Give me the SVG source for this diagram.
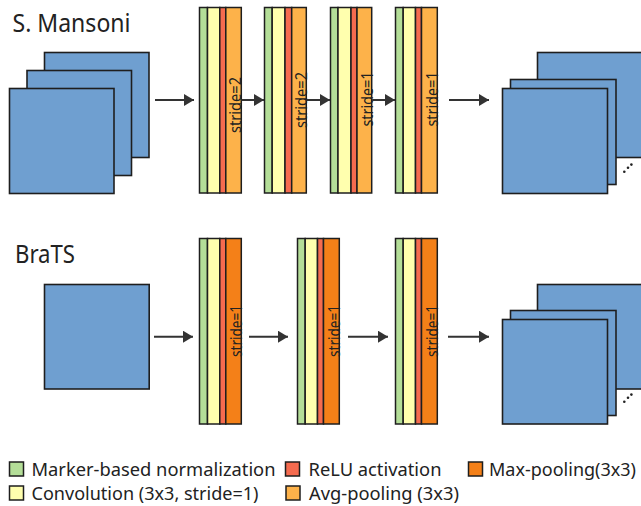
<svg xmlns="http://www.w3.org/2000/svg" width="641" height="506" viewBox="0 0 641 506">
  <defs>
    <marker id="arrowhead" viewBox="0 0 10 12" refX="10" refY="6" markerWidth="10" markerHeight="12" markerUnits="userSpaceOnUse" orient="auto">
      <path d="M0,0 L10,6 L0,12 Z" fill="#333"/>
    </marker>
    <style>
      .map { fill: #6f9fd0; stroke: #1e1e1e; stroke-width: 1.6; }
      .norm { fill: #b4de98; stroke: #1e1e1e; stroke-width: 1.5; }
      .conv { fill: #ffffae; stroke: #1e1e1e; stroke-width: 1.5; }
      .relu { fill: #f56b4f; stroke: #1e1e1e; stroke-width: 1.5; }
      .avg { fill: #fdb24a; stroke: #1e1e1e; stroke-width: 1.5; }
      .max { fill: #f48018; stroke: #1e1e1e; stroke-width: 1.5; }
      .edge { fill: none; stroke: #333; stroke-width: 2; marker-end: url(#arrowhead); }
      .title { font-family: "Noto Sans", "DejaVu Sans", sans-serif; font-size: 25px; fill: #222; }
      .stride { font-family: "Noto Sans", "DejaVu Sans", sans-serif; font-size: 15.5px; fill: #222; text-anchor: middle; }
      .legend { font-family: "Noto Sans", "DejaVu Sans", sans-serif; font-size: 18.5px; fill: #222; }
      .dot { fill: #222; }
    </style>
  </defs>

  <!-- Section titles -->
  <text class="title" x="12.5" y="32" textLength="118" lengthAdjust="spacingAndGlyphs">S. Mansoni</text>
  <text class="title" x="15" y="263" textLength="60" lengthAdjust="spacingAndGlyphs">BraTS</text>

  <!-- Top row: multi-channel input -->
  <g id="sm-input">
    <rect class="map" x="44.5" y="52.5" width="104.5" height="105"/>
    <rect class="map" x="27" y="70.5" width="104.5" height="105"/>
    <rect class="map" x="9.5" y="88.5" width="104.5" height="105"/>
  </g>

  <!-- Top row: layer 1 (stride=2) -->
  <g id="sm-layer1">
    <rect class="norm" x="199.5" y="7.5" width="8" height="185.5"/>
    <rect class="conv" x="207.5" y="7.5" width="12.3" height="185.5"/>
    <rect class="relu" x="219.8" y="7.5" width="6" height="185.5"/>
    <rect class="avg" x="225.8" y="7.5" width="15.5" height="185.5"/>
    <text class="stride" transform="translate(241.3,105) rotate(-90)" textLength="56" lengthAdjust="spacingAndGlyphs">stride=2</text>
  </g>

  <!-- Top row: layer 2 (stride=2) -->
  <g id="sm-layer2">
    <rect class="norm" x="264.5" y="7.5" width="7.7" height="185.5"/>
    <rect class="conv" x="272.2" y="7.5" width="12.8" height="185.5"/>
    <rect class="relu" x="285" y="7.5" width="6.7" height="185.5"/>
    <rect class="avg" x="291.7" y="7.5" width="14.6" height="185.5"/>
    <text class="stride" transform="translate(306.5,100) rotate(-90)" textLength="56" lengthAdjust="spacingAndGlyphs">stride=2</text>
  </g>

  <!-- Top row: layer 3 (stride=1) -->
  <g id="sm-layer3">
    <rect class="norm" x="330.5" y="7.5" width="7.5" height="185.5"/>
    <rect class="conv" x="338" y="7.5" width="13" height="185.5"/>
    <rect class="relu" x="351" y="7.5" width="6" height="185.5"/>
    <rect class="avg" x="357" y="7.5" width="14.7" height="185.5"/>
    <text class="stride" transform="translate(372.5,99) rotate(-90)" textLength="55" lengthAdjust="spacingAndGlyphs">stride=1</text>
  </g>

  <!-- Top row: layer 4 (stride=1) -->
  <g id="sm-layer4">
    <rect class="norm" x="395.5" y="7.5" width="7.7" height="185.5"/>
    <rect class="conv" x="403.2" y="7.5" width="12.3" height="185.5"/>
    <rect class="relu" x="415.5" y="7.5" width="6" height="185.5"/>
    <rect class="avg" x="421.5" y="7.5" width="15.8" height="185.5"/>
    <text class="stride" transform="translate(437.8,99) rotate(-90)" textLength="55" lengthAdjust="spacingAndGlyphs">stride=1</text>
  </g>

  <!-- Top row: output feature maps -->
  <g id="sm-output">
    <rect class="map" x="537.5" y="52.5" width="106" height="105"/>
    <rect class="map" x="510.5" y="79.5" width="105.5" height="105"/>
    <rect class="map" x="502.5" y="88.5" width="105" height="105"/>
    <circle class="dot" cx="624.3" cy="171.7" r="1.3"/>
    <circle class="dot" cx="628" cy="167.8" r="1.3"/>
    <circle class="dot" cx="631.4" cy="164.6" r="1.3"/>
  </g>

  <!-- Bottom row: single-channel input -->
  <g id="brats-input">
    <rect class="map" x="44.5" y="284.5" width="104.7" height="104.5"/>
  </g>

  <!-- Bottom row: layer 1 (stride=1) -->
  <g id="brats-layer1">
    <rect class="norm" x="199.5" y="238.5" width="8" height="185.5"/>
    <rect class="conv" x="207.5" y="238.5" width="12.3" height="185.5"/>
    <rect class="relu" x="219.8" y="238.5" width="6" height="185.5"/>
    <rect class="max" x="225.8" y="238.5" width="15.5" height="185.5"/>
    <text class="stride" transform="translate(241.8,331) rotate(-90)" textLength="52" lengthAdjust="spacingAndGlyphs">stride=1</text>
  </g>

  <!-- Bottom row: layer 2 (stride=1) -->
  <g id="brats-layer2">
    <rect class="norm" x="297.5" y="238.5" width="7.7" height="185.5"/>
    <rect class="conv" x="305.2" y="238.5" width="12.3" height="185.5"/>
    <rect class="relu" x="317.5" y="238.5" width="6" height="185.5"/>
    <rect class="max" x="323.5" y="238.5" width="15.8" height="185.5"/>
    <text class="stride" transform="translate(339.8,331) rotate(-90)" textLength="52" lengthAdjust="spacingAndGlyphs">stride=1</text>
  </g>

  <!-- Bottom row: layer 3 (stride=1) -->
  <g id="brats-layer3">
    <rect class="norm" x="395.5" y="238.5" width="7.7" height="185.5"/>
    <rect class="conv" x="403.2" y="238.5" width="12.3" height="185.5"/>
    <rect class="relu" x="415.5" y="238.5" width="6" height="185.5"/>
    <rect class="max" x="421.5" y="238.5" width="15.8" height="185.5"/>
    <text class="stride" transform="translate(437.8,331) rotate(-90)" textLength="52" lengthAdjust="spacingAndGlyphs">stride=1</text>
  </g>

  <!-- Bottom row: output feature maps -->
  <g id="brats-output">
    <rect class="map" x="537.5" y="284.5" width="106" height="104.5"/>
    <rect class="map" x="510.5" y="310.5" width="105.5" height="105"/>
    <rect class="map" x="502.5" y="319.5" width="105" height="104.5"/>
    <circle class="dot" cx="624.3" cy="401.7" r="1.3"/>
    <circle class="dot" cx="628" cy="397.8" r="1.3"/>
    <circle class="dot" cx="631.4" cy="394.6" r="1.3"/>
  </g>

  <!-- Connectors -->
  <g id="connectors">
    <line class="edge" x1="155" y1="100" x2="194" y2="100"/>
    <line class="edge" x1="241.5" y1="100" x2="264" y2="100"/>
    <line class="edge" x1="306.5" y1="100" x2="330" y2="100"/>
    <line class="edge" x1="372.5" y1="100" x2="395" y2="100"/>
    <line class="edge" x1="449" y1="100" x2="489" y2="100"/>
    <line class="edge" x1="154" y1="336.7" x2="193" y2="336.7"/>
    <line class="edge" x1="249" y1="336.7" x2="288" y2="336.7"/>
    <line class="edge" x1="348" y1="336.7" x2="388" y2="336.7"/>
    <line class="edge" x1="448" y1="336.7" x2="489" y2="336.7"/>
  </g>

  <!-- Legend -->
  <g id="legend">
    <rect class="norm" x="9.5" y="462" width="14" height="14"/>
    <text class="legend" x="31.5" y="476" textLength="244" lengthAdjust="spacingAndGlyphs">Marker-based normalization</text>
    <rect class="relu" x="285.5" y="462" width="14" height="14"/>
    <text class="legend" x="308.5" y="476" textLength="133" lengthAdjust="spacingAndGlyphs">ReLU activation</text>
    <rect class="max" x="468.5" y="462" width="14" height="14"/>
    <text class="legend" x="489" y="476" textLength="147" lengthAdjust="spacingAndGlyphs">Max-pooling(3x3)</text>
    <rect class="conv" x="9.5" y="486" width="14" height="14"/>
    <text class="legend" x="31.5" y="499.5" textLength="227" lengthAdjust="spacingAndGlyphs">Convolution (3x3, stride=1)</text>
    <rect class="avg" x="286" y="486" width="14" height="14"/>
    <text class="legend" x="309" y="499.5" textLength="150" lengthAdjust="spacingAndGlyphs">Avg-pooling (3x3)</text>
  </g>
</svg>
